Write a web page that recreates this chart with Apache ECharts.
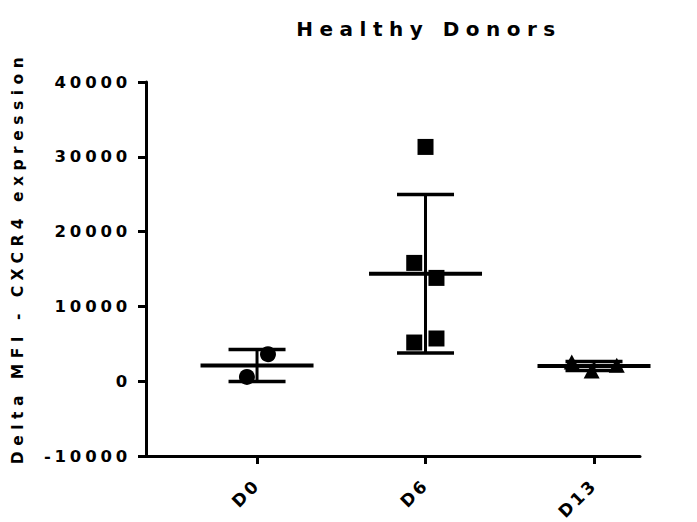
<!DOCTYPE html>
<html>
<head>
<meta charset="utf-8">
<script src="https://cdn.jsdelivr.net/npm/echarts@6/dist/echarts.min.js"></script>
<style>
  html, body { margin: 0; padding: 0; background: #fff; }
  #chart { width: 697px; height: 522px; }
</style>
</head>
<body>
<div id="chart"></div>
<script>
// Groups on the x axis
const categories = ['D0', 'D6', 'D13'];

// Individual donor measurements per group
const valuesD0 = [575, 3610];
const valuesD6 = [31320, 15815, 13810, 5710, 5170];
const valuesD13 = [2570, 1380, 2140];

// Horizontal scatter of points inside each group (in category units)
const jitterD0 = [-0.06, 0.065];
const jitterD6 = [0, -0.067, 0.065, 0.065, -0.067];
const jitterD13 = [-0.132, -0.014, 0.135];

// Y axis ticks
const yTicks = [-10000, 0, 10000, 20000, 30000, 40000];

const groups = [
  { values: valuesD0, jitter: jitterD0, symbol: 'circle', size: 16 },
  { values: valuesD6, jitter: jitterD6, symbol: 'rect', size: 16 },
  { values: valuesD13, jitter: jitterD13, symbol: 'triangle', size: [16, 15] }
];

function mean(a) { return a.reduce((s, v) => s + v, 0) / a.length; }
function sd(a) {
  const m = mean(a);
  return Math.sqrt(a.reduce((s, v) => s + (v - m) * (v - m), 0) / (a.length - 1));
}

// mean ± SD per group
const summary = groups.map((g, i) => {
  const m = mean(g.values), s = sd(g.values);
  return [i, m, m - s, m + s];
});

const FONT = 'DejaVu Sans';

const scatterSeries = groups.map((g, i) => ({
  type: 'scatter',
  symbol: g.symbol,
  symbolSize: g.size,
  itemStyle: { color: '#000', opacity: 1 },
  z: 3,
  data: g.values.map((v, k) => [i + g.jitter[k], v])
}));

const summarySeries = {
  type: 'custom',
  z: 4,
  renderItem: function (params, api) {
    const c = api.coord([api.value(0), api.value(1)]);
    const lo = api.coord([api.value(0), api.value(2)]);
    const hi = api.coord([api.value(0), api.value(3)]);
    const halfMean = 56.5, halfCap = 28.5;
    const st = { stroke: '#000', lineWidth: 3.5 };
    return {
      type: 'group',
      children: [
        { type: 'line', shape: { x1: c[0] - halfMean, y1: c[1], x2: c[0] + halfMean, y2: c[1] }, style: { stroke: '#000', lineWidth: 4 } },
        { type: 'line', shape: { x1: c[0], y1: lo[1], x2: c[0], y2: hi[1] }, style: { stroke: '#000', lineWidth: 3 } },
        { type: 'line', shape: { x1: c[0] - halfCap, y1: lo[1], x2: c[0] + halfCap, y2: lo[1] }, style: st },
        { type: 'line', shape: { x1: c[0] - halfCap, y1: hi[1], x2: c[0] + halfCap, y2: hi[1] }, style: st }
      ]
    };
  },
  data: summary
};

const chart = echarts.init(document.getElementById('chart'), null, { renderer: 'svg' });

chart.setOption({
  animation: false,
  backgroundColor: '#fff',
  title: {
    text: 'Healthy Donors',
    left: 424,
    top: 14,
    textAlign: 'center',
    textStyle: { fontFamily: FONT, fontWeight: 'bold', fontSize: 20, color: '#000' }
  },
  grid: { left: 146, right: 57, top: 82, bottom: 66 },
  xAxis: {
    type: 'value',
    min: -0.659,
    max: 2.273,
    splitLine: { show: false },
    axisLine: { onZero: false, lineStyle: { color: '#000', width: 3 } },
    axisTick: { customValues: [0, 1, 2], length: 8, lineStyle: { color: '#000', width: 3 } },
    axisLabel: {
      customValues: [0, 1, 2],
      formatter: v => categories[Math.round(v)],
      rotate: 45,
      margin: 26,
      fontFamily: FONT, fontWeight: 'bold', fontSize: 17, color: '#000'
    }
  },
  yAxis: {
    type: 'value',
    min: yTicks[0],
    max: yTicks[yTicks.length - 1],
    interval: 10000,
    splitLine: { show: false },
    axisLine: { show: true, onZero: false, lineStyle: { color: '#000', width: 3 } },
    axisTick: { show: true, length: 8, lineStyle: { color: '#000', width: 3 } },
    axisLabel: {
      margin: 15,
      formatter: v => String(v),
      fontFamily: FONT, fontWeight: 'bold', fontSize: 16.5, color: '#000'
    },
    name: 'Delta MFI - CXCR4 expression',
    nameLocation: 'middle',
    nameRotate: 90,
    nameGap: 120,
    nameTextStyle: { fontFamily: FONT, fontWeight: 'bold', fontSize: 15.5, color: '#000', padding: [0, 0, 0, 22] }
  },
  series: [...scatterSeries, summarySeries]
});

// Wide tracking on the text, keyed by font size
function applySpacing() {
  document.querySelectorAll('#chart svg text').forEach(t => {
    const fs = parseFloat(getComputedStyle(t).fontSize);
    let ls = 3.8;
    if (fs >= 19) ls = 6.5;
    else if (fs < 16) ls = 5.5;
    else if (fs === 17) ls = 2.8;
    t.style.letterSpacing = ls + 'px';
  });
}
chart.on('finished', applySpacing);
applySpacing();
</script>
</body>
</html>
